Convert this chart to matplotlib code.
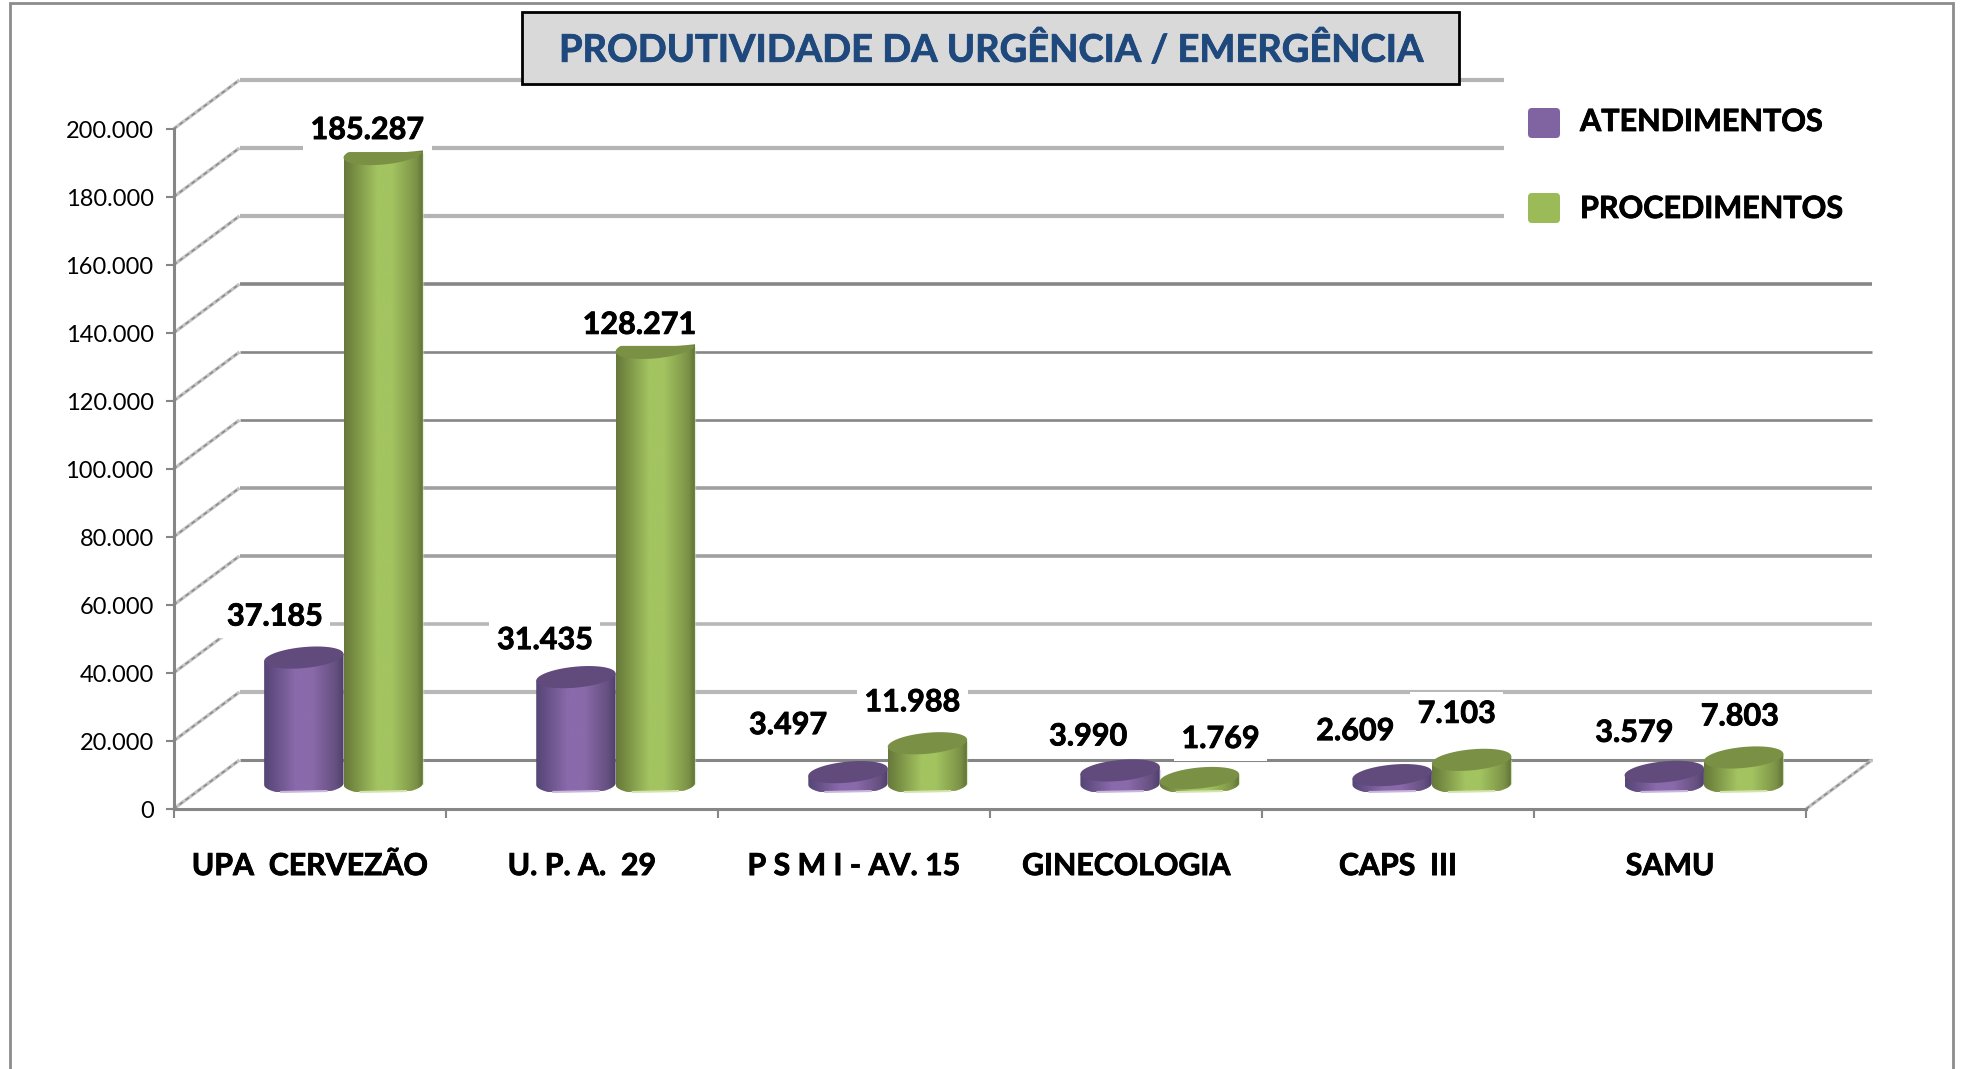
import matplotlib
matplotlib.use('Agg')
import matplotlib.pyplot as plt
import matplotlib.patheffects as pe
import numpy as np
from matplotlib.colors import LinearSegmentedColormap
from matplotlib.patches import Polygon, Rectangle, FancyBboxPatch
from matplotlib.transforms import Affine2D

W, H = 1961, 1069

categories = ['UPA  CERVEZÃO', 'U. P. A.  29', 'P S M I - AV. 15', 'GINECOLOGIA', 'CAPS  III', 'SAMU']
atendimentos = [37185, 31435, 3497, 3990, 2609, 3579]
procedimentos = [185287, 128271, 11988, 1769, 7103, 7803]
y_ticks = [0, 20000, 40000, 60000, 80000, 100000, 120000, 140000, 160000, 180000, 200000]
series_names = ['ATENDIMENTOS', 'PROCEDIMENTOS']
title = 'PRODUTIVIDADE DA URGÊNCIA / EMERGÊNCIA'

# label offsets from the bar top, in pixels
at_offsets = [(-29, 41), (-31, 37), (-60, 47), (-32, 34), (-37, 44), (-30, 39)]
pr_offsets = [(-16, 24), (-16, 23), (-15, 41), (21, 39), (-15, 46), (-4, 41)]

purple_cm = LinearSegmentedColormap.from_list('p', [(0, '#574576'), (0.08, '#5f4b80'), (0.4, '#8a6aab'), (0.6, '#8a6aab'), (0.9, '#65507f'), (1, '#4f3f6c')])
green_cm = LinearSegmentedColormap.from_list('g', [(0, '#67793c'), (0.08, '#718640'), (0.42, '#a3c460'), (0.6, '#a3c460'), (0.9, '#7c9347'), (1, '#5f7137')])

plt.rcParams['font.family'] = ['Lato', 'DejaVu Sans']
heavy = [pe.withStroke(linewidth=0.6, foreground='black')]

fig = plt.figure(figsize=(W / 100, H / 100), dpi=100)
left, right, top, bottom = 173.5, 1806, 129, 809
ax = fig.add_axes([left / W, 1 - bottom / H, (right - left) / W, (bottom - top) / H])
ax.patch.set_visible(False)
ax.set_xlim(0, 6)
ax.set_ylim(0, 200000)

px_x = 6 / (right - left)
px_y = 200000 / (bottom - top)

# frame of the slide
fig.add_artist(Rectangle((10 / W, -0.02), (1953 - 10) / W, 1.02 - 3 / H, transform=fig.transFigure,
                         fill=False, ec='#8c8c8c', lw=2))

# back wall and side wall
depth_x, depth_y = 66, 49
back_tr = ax.transData + Affine2D().translate(depth_x, depth_y)
grid_colors = {0: '#868686', 20000: '#b8b8b8', 40000: '#b8b8b8', 60000: '#a0a0a0', 80000: '#a0a0a0', 100000: '#868686',
               120000: '#868686', 140000: '#868686', 160000: '#b4b4b4', 180000: '#b4b4b4', 200000: '#b4b4b4'}
grid_widths = {0: 2.2, 20000: 3, 40000: 2.6, 60000: 2.6, 80000: 2.6, 100000: 1.9,
               120000: 1.9, 140000: 2.6, 160000: 3, 180000: 3, 200000: 3}


def side_line(x0, v):
    xs = [x0, x0 + depth_x * px_x]
    ys = [v, v + depth_y * px_y]
    ax.plot(xs, ys, color='#c4c4c4', lw=2.4, clip_on=False, zorder=1, solid_capstyle='butt')
    ax.plot(xs, ys, color='#8c8c8c', lw=1.2, ls=(0, (2.5, 2)), clip_on=False, zorder=1)


for v in y_ticks:
    ax.plot([0, 6], [v, v], color=grid_colors[v], lw=grid_widths[v], transform=back_tr, clip_on=False, zorder=1, solid_capstyle='butt')
    side_line(0, v)
side_line(6, 0)

# cylinders
bar_w = 79.4 * px_x
a = bar_w / 2
b = 10.5 * px_y
shear = 0.09 * px_y / px_x
body_shear = 0.02 * px_y / px_x
bar_tr = ax.transData + Affine2D().translate(34, 25)
t = np.linspace(0, 2 * np.pi, 81)


def cylinder(xc, value, cmap, top_color, rim):
    ex = a * np.cos(t)
    ey = b * np.sin(t) + shear * ex
    # the two tall bars have their cap cut flat in the reference
    if value > 100000:
        ey = np.minimum(ey, 2 * px_y)
    low = t[40:81]
    foot = np.maximum(b * np.sin(low), -7.5 * px_y)
    side_x = np.concatenate([xc + a * np.cos(low), [xc + a, xc - a]])
    side_y = np.concatenate([foot + body_shear * a * np.cos(low), [value + shear * a, value - shear * a]])
    body = Polygon(np.column_stack([side_x, side_y]), closed=True, fc='none', ec='none', transform=bar_tr, zorder=3)
    ax.add_patch(body)
    im = ax.imshow(np.linspace(0, 1, 256)[None, :], cmap=cmap, extent=(xc - a, xc + a, 0 - 40 * px_y, value + 40 * px_y),
                   aspect='auto', transform=bar_tr, zorder=3, interpolation='bilinear')
    im.set_clip_path(body)
    ax.plot(xc + a * 0.97 * np.cos(t[52:69]), -7.5 * px_y + body_shear * a * np.cos(t[52:69]), color=rim, lw=1.5,
            transform=bar_tr, zorder=3, clip_on=False)
    ax.plot([xc + a, xc + a], [0, value], color=rim, lw=1, alpha=0.5, transform=bar_tr, zorder=3)
    ax.add_patch(Polygon(np.column_stack([xc + ex, value + ey]), closed=True, fc=top_color, ec='none', transform=bar_tr, zorder=3))


for i in range(len(categories)):
    xp = i + 0.5 - a
    xg = i + 0.5 + a
    cylinder(xp, atendimentos[i], purple_cm, '#614a7c', '#c9b8dc')
    cylinder(xg, procedimentos[i], green_cm, '#7a9145', '#d5e3ae')

ax.set_xlim(0, 6)
ax.set_ylim(0, 200000)

# value labels
box = dict(fc='white', ec='none', pad=5.5)
for i in range(len(categories)):
    for xc, v, off in [(i + 0.5 - a, atendimentos[i], at_offsets[i]), (i + 0.5 + a, procedimentos[i], pr_offsets[i])]:
        p = bar_tr.transform((xc, v))
        ax.text(p[0] + off[0], p[1] + off[1], f'{v:,}'.replace(',', '.'), transform=None, ha='center', va='center',
                fontsize=22, fontweight='bold', color='black', bbox=box, zorder=2.5, path_effects=heavy)

# axes
for s in ['top', 'right']:
    ax.spines[s].set_visible(False)
for s in ['left', 'bottom']:
    ax.spines[s].set_color('#868686')
    ax.spines[s].set_linewidth(2.2)
ax.set_yticks(y_ticks)
ax.set_yticklabels([f'{v:,}'.replace(',', '.') for v in y_ticks], fontsize=17, color='black')
ax.set_xticks(range(7))
ax.set_xticklabels([])
ax.set_xticks([i + 0.5 for i in range(6)], labels=categories, minor=True, fontsize=21.8, fontweight='bold',
              path_effects=heavy)
ax.tick_params(axis='x', which='major', length=6.5, width=1.5, color='#868686')
ax.tick_params(axis='x', which='minor', length=0, pad=31)
ax.tick_params(axis='y', length=5.8, width=1.5, color='#868686', pad=8.5)

# legend
fig.add_artist(Rectangle((1504 / W, 1 - 235 / H), 390 / W, 160 / H, transform=fig.transFigure, fc='white', ec='none', zorder=2))
colors = ['#8064a2', '#9bbb59']
for name, col, yc, ty in zip(series_names, colors, [123, 208], [122, 209]):
    fig.add_artist(FancyBboxPatch((1531, H - yc - 12), 26, 24, boxstyle='round,pad=3,rounding_size=4', transform=None, fc=col, ec='none', zorder=3))
    fig.text(1580 / W, 1 - ty / H, name, ha='left', va='center', fontsize=22, fontweight='bold', zorder=3, path_effects=heavy)

# title box
fig.add_artist(Rectangle((522 / W, 1 - 84 / H), 937 / W, 72 / H, transform=fig.transFigure, fc='#d9d9d9', ec='black', lw=2, zorder=4))
fig.text(990 / W, 1 - 49 / H, title, ha='center', va='center', fontsize=27.4, fontweight='bold', color='#1f497d', zorder=5,
         path_effects=[pe.withStroke(linewidth=0.6, foreground='#1f497d')])

fig.savefig('out.png', dpi=100)
